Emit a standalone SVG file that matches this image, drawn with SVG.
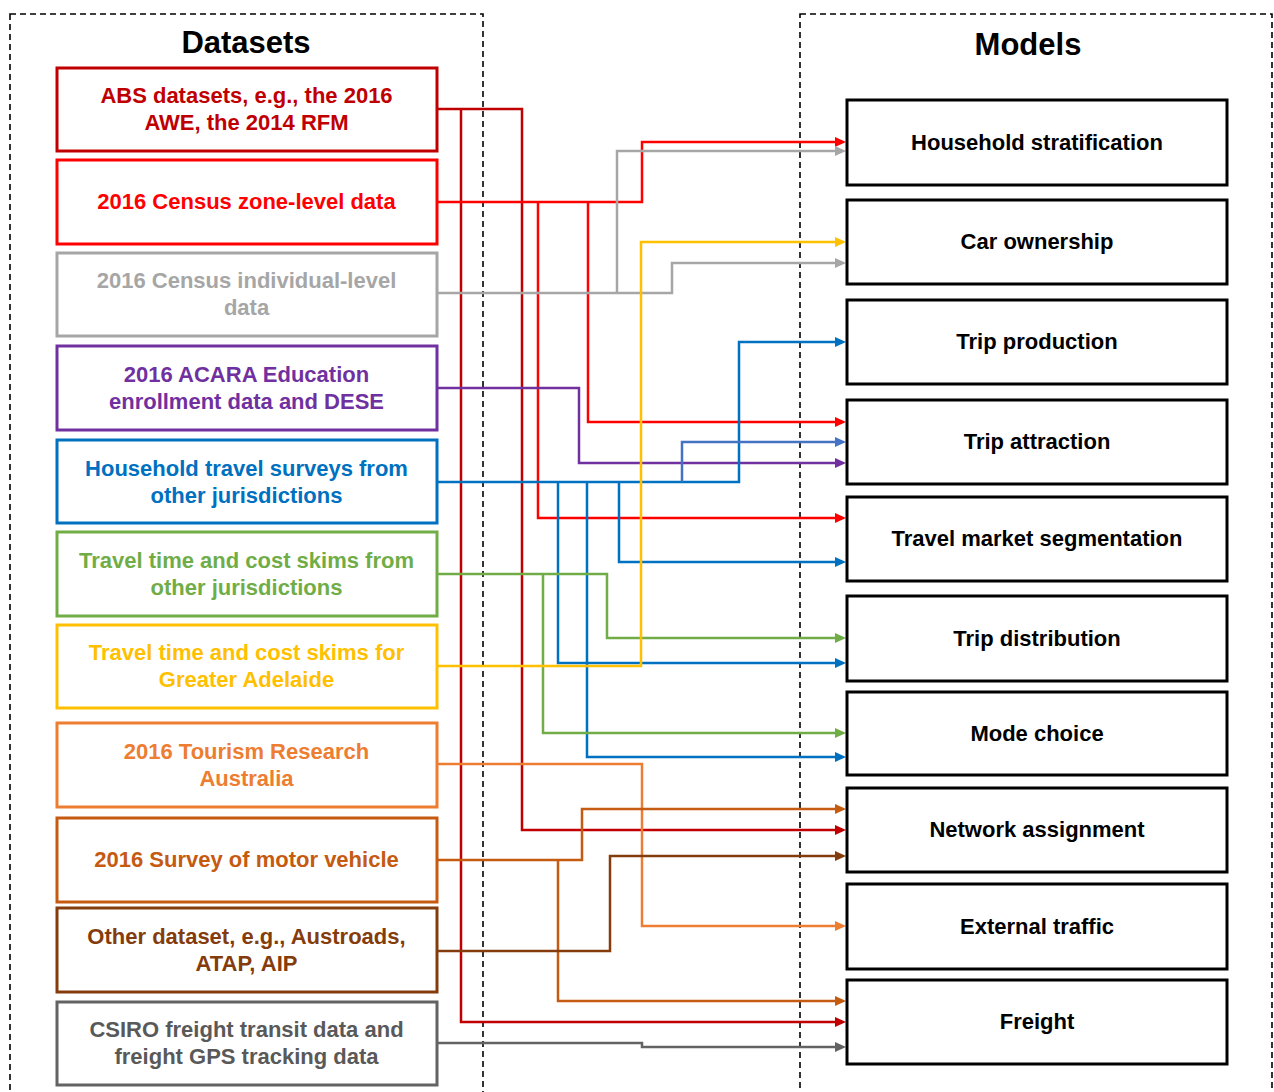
<svg xmlns="http://www.w3.org/2000/svg" width="1274" height="1092" viewBox="0 0 1274 1092">
<style>
  .frame { fill: none; stroke: #000; stroke-width: 1.6; stroke-dasharray: 6 4; }
  .title { font-family: "Liberation Sans", Arial, sans-serif; font-weight: bold; font-size: 31px; fill: #000; text-anchor: middle; }
  .lbl { font-family: "Liberation Sans", Arial, sans-serif; font-weight: bold; font-size: 22px; text-anchor: middle; }
  .dbox { fill: #fff; stroke-width: 3; }
  .mbox { fill: #fff; stroke: #000; stroke-width: 3; }
  .c { fill: none; stroke-width: 2.5; stroke-linejoin: miter; }
</style>
<defs>
  <marker id="m-darkred" viewBox="0 0 11 10" refX="5" refY="5" markerWidth="11" markerHeight="10" markerUnits="userSpaceOnUse" orient="auto"><path d="M0,0 L11,5 L0,10 z" fill="#C00000"/></marker>
  <marker id="m-red" viewBox="0 0 11 10" refX="5" refY="5" markerWidth="11" markerHeight="10" markerUnits="userSpaceOnUse" orient="auto"><path d="M0,0 L11,5 L0,10 z" fill="#FF0000"/></marker>
  <marker id="m-gray" viewBox="0 0 11 10" refX="5" refY="5" markerWidth="11" markerHeight="10" markerUnits="userSpaceOnUse" orient="auto"><path d="M0,0 L11,5 L0,10 z" fill="#A6A6A6"/></marker>
  <marker id="m-purple" viewBox="0 0 11 10" refX="5" refY="5" markerWidth="11" markerHeight="10" markerUnits="userSpaceOnUse" orient="auto"><path d="M0,0 L11,5 L0,10 z" fill="#7030A0"/></marker>
  <marker id="m-blue" viewBox="0 0 11 10" refX="5" refY="5" markerWidth="11" markerHeight="10" markerUnits="userSpaceOnUse" orient="auto"><path d="M0,0 L11,5 L0,10 z" fill="#0070C0"/></marker>
  <marker id="m-blue2" viewBox="0 0 11 10" refX="5" refY="5" markerWidth="11" markerHeight="10" markerUnits="userSpaceOnUse" orient="auto"><path d="M0,0 L11,5 L0,10 z" fill="#4472C4"/></marker>
  <marker id="m-green" viewBox="0 0 11 10" refX="5" refY="5" markerWidth="11" markerHeight="10" markerUnits="userSpaceOnUse" orient="auto"><path d="M0,0 L11,5 L0,10 z" fill="#70AD47"/></marker>
  <marker id="m-yellow" viewBox="0 0 11 10" refX="5" refY="5" markerWidth="11" markerHeight="10" markerUnits="userSpaceOnUse" orient="auto"><path d="M0,0 L11,5 L0,10 z" fill="#FFC000"/></marker>
  <marker id="m-orange" viewBox="0 0 11 10" refX="5" refY="5" markerWidth="11" markerHeight="10" markerUnits="userSpaceOnUse" orient="auto"><path d="M0,0 L11,5 L0,10 z" fill="#ED7D31"/></marker>
  <marker id="m-orange2" viewBox="0 0 11 10" refX="5" refY="5" markerWidth="11" markerHeight="10" markerUnits="userSpaceOnUse" orient="auto"><path d="M0,0 L11,5 L0,10 z" fill="#C55A11"/></marker>
  <marker id="m-brown" viewBox="0 0 11 10" refX="5" refY="5" markerWidth="11" markerHeight="10" markerUnits="userSpaceOnUse" orient="auto"><path d="M0,0 L11,5 L0,10 z" fill="#843C0C"/></marker>
  <marker id="m-dgray" viewBox="0 0 11 10" refX="5" refY="5" markerWidth="11" markerHeight="10" markerUnits="userSpaceOnUse" orient="auto"><path d="M0,0 L11,5 L0,10 z" fill="#636363"/></marker>
</defs>
<rect width="1274" height="1092" fill="#fff"/>

<g id="frames">
  <rect class="frame" x="10" y="14" width="473" height="1100"/>
  <rect class="frame" x="800" y="14" width="472" height="1100"/>
  <text class="title" x="246" y="53">Datasets</text>
  <text class="title" x="1028" y="55">Models</text>
</g>

<g id="connectors">
  <path class="c" stroke="#C00000" d="M438,109 H522 V830 H840" marker-end="url(#m-darkred)"/>
  <path class="c" stroke="#C00000" d="M461,109 V1022 H840" marker-end="url(#m-darkred)"/>
  <path class="c" stroke="#FF0000" d="M438,202 H642 V142 H840" marker-end="url(#m-red)"/>
  <path class="c" stroke="#FF0000" d="M538,202 V518 H840" marker-end="url(#m-red)"/>
  <path class="c" stroke="#FF0000" d="M588,202 V422 H840" marker-end="url(#m-red)"/>
  <path class="c" stroke="#A6A6A6" d="M438,293 H672 V263 H840" marker-end="url(#m-gray)"/>
  <path class="c" stroke="#A6A6A6" d="M617,293 V151 H840" marker-end="url(#m-gray)"/>
  <path class="c" stroke="#7030A0" d="M438,388 H579 V463 H840" marker-end="url(#m-purple)"/>
  <path class="c" stroke="#0070C0" d="M438,482 H739 V342 H840" marker-end="url(#m-blue)"/>
  <path class="c" stroke="#4472C4" d="M682,482 V442 H840" marker-end="url(#m-blue2)"/>
  <path class="c" stroke="#0070C0" d="M558,482 V663 H840" marker-end="url(#m-blue)"/>
  <path class="c" stroke="#0070C0" d="M587,482 V757 H840" marker-end="url(#m-blue)"/>
  <path class="c" stroke="#0070C0" d="M619,482 V562 H840" marker-end="url(#m-blue)"/>
  <path class="c" stroke="#70AD47" d="M438,574 H607 V638 H840" marker-end="url(#m-green)"/>
  <path class="c" stroke="#70AD47" d="M543,574 V733 H840" marker-end="url(#m-green)"/>
  <path class="c" stroke="#FFC000" d="M438,666 H641 V242 H840" marker-end="url(#m-yellow)"/>
  <path class="c" stroke="#ED7D31" d="M438,764 H642 V926 H840" marker-end="url(#m-orange)"/>
  <path class="c" stroke="#C55A11" d="M438,860 H582 V809 H840" marker-end="url(#m-orange2)"/>
  <path class="c" stroke="#C55A11" d="M558,860 V1001 H840" marker-end="url(#m-orange2)"/>
  <path class="c" stroke="#843C0C" d="M438,951 H610 V856 H840" marker-end="url(#m-brown)"/>
  <path class="c" stroke="#636363" d="M438,1043 H642 V1047 H840" marker-end="url(#m-dgray)"/>
</g>

<g id="ds-abs">
  <rect class="dbox" stroke="#C00000" x="57" y="68" width="380" height="83"/>
  <text class="lbl" fill="#C00000" x="246.5" y="103">ABS datasets, e.g., the 2016</text>
  <text class="lbl" fill="#C00000" x="246.5" y="130">AWE, the 2014 RFM</text>
</g>
<g id="ds-census-zone">
  <rect class="dbox" stroke="#FF0000" x="57" y="160" width="380" height="84"/>
  <text class="lbl" fill="#FF0000" x="246.5" y="209">2016 Census zone-level data</text>
</g>
<g id="ds-census-ind">
  <rect class="dbox" stroke="#A6A6A6" x="57" y="253" width="380" height="83"/>
  <text class="lbl" fill="#A6A6A6" x="246.5" y="288">2016 Census individual-level</text>
  <text class="lbl" fill="#A6A6A6" x="246.5" y="315">data</text>
</g>
<g id="ds-acara">
  <rect class="dbox" stroke="#7030A0" x="57" y="346" width="380" height="84"/>
  <text class="lbl" fill="#7030A0" x="246.5" y="382">2016 ACARA Education</text>
  <text class="lbl" fill="#7030A0" x="246.5" y="409">enrollment data and DESE</text>
</g>
<g id="ds-hts">
  <rect class="dbox" stroke="#0070C0" x="57" y="440" width="380" height="83"/>
  <text class="lbl" fill="#0070C0" x="246.5" y="476">Household travel surveys from</text>
  <text class="lbl" fill="#0070C0" x="246.5" y="503">other jurisdictions</text>
</g>
<g id="ds-skims-other">
  <rect class="dbox" stroke="#70AD47" x="57" y="532" width="380" height="84"/>
  <text class="lbl" fill="#70AD47" x="246.5" y="568">Travel time and cost skims from</text>
  <text class="lbl" fill="#70AD47" x="246.5" y="595">other jurisdictions</text>
</g>
<g id="ds-skims-adelaide">
  <rect class="dbox" stroke="#FFC000" x="57" y="625" width="380" height="83"/>
  <text class="lbl" fill="#FFC000" x="246.5" y="660">Travel time and cost skims for</text>
  <text class="lbl" fill="#FFC000" x="246.5" y="687">Greater Adelaide</text>
</g>
<g id="ds-tourism">
  <rect class="dbox" stroke="#ED7D31" x="57" y="723" width="380" height="84"/>
  <text class="lbl" fill="#ED7D31" x="246.5" y="759">2016 Tourism Research</text>
  <text class="lbl" fill="#ED7D31" x="246.5" y="786">Australia</text>
</g>
<g id="ds-smvu">
  <rect class="dbox" stroke="#C55A11" x="57" y="818" width="380" height="84"/>
  <text class="lbl" fill="#C55A11" x="246.5" y="867">2016 Survey of motor vehicle</text>
</g>
<g id="ds-other">
  <rect class="dbox" stroke="#843C0C" x="57" y="908" width="380" height="84"/>
  <text class="lbl" fill="#843C0C" x="246.5" y="944">Other dataset, e.g., Austroads,</text>
  <text class="lbl" fill="#843C0C" x="246.5" y="971">ATAP, AIP</text>
</g>
<g id="ds-csiro">
  <rect class="dbox" stroke="#636363" x="57" y="1002" width="380" height="83"/>
  <text class="lbl" fill="#595959" x="246.5" y="1037">CSIRO freight transit data and</text>
  <text class="lbl" fill="#595959" x="246.5" y="1064">freight GPS tracking data</text>
</g>

<g id="m-household">
  <rect class="mbox" x="847" y="100" width="380" height="85"/>
  <text class="lbl" fill="#000" x="1037" y="149.5">Household stratification</text>
</g>
<g id="m-car">
  <rect class="mbox" x="847" y="200" width="380" height="84"/>
  <text class="lbl" fill="#000" x="1037" y="249">Car ownership</text>
</g>
<g id="m-production">
  <rect class="mbox" x="847" y="300" width="380" height="84"/>
  <text class="lbl" fill="#000" x="1037" y="349">Trip production</text>
</g>
<g id="m-attraction">
  <rect class="mbox" x="847" y="400" width="380" height="84"/>
  <text class="lbl" fill="#000" x="1037" y="449">Trip attraction</text>
</g>
<g id="m-segmentation">
  <rect class="mbox" x="847" y="497" width="380" height="84"/>
  <text class="lbl" fill="#000" x="1037" y="546">Travel market segmentation</text>
</g>
<g id="m-distribution">
  <rect class="mbox" x="847" y="596" width="380" height="85"/>
  <text class="lbl" fill="#000" x="1037" y="645.5">Trip distribution</text>
</g>
<g id="m-mode">
  <rect class="mbox" x="847" y="692" width="380" height="83"/>
  <text class="lbl" fill="#000" x="1037" y="740.5">Mode choice</text>
</g>
<g id="m-network">
  <rect class="mbox" x="847" y="788" width="380" height="84"/>
  <text class="lbl" fill="#000" x="1037" y="837">Network assignment</text>
</g>
<g id="m-external">
  <rect class="mbox" x="847" y="884" width="380" height="85"/>
  <text class="lbl" fill="#000" x="1037" y="933.5">External traffic</text>
</g>
<g id="m-freight">
  <rect class="mbox" x="847" y="980" width="380" height="84"/>
  <text class="lbl" fill="#000" x="1037" y="1029">Freight</text>
</g>
</svg>
